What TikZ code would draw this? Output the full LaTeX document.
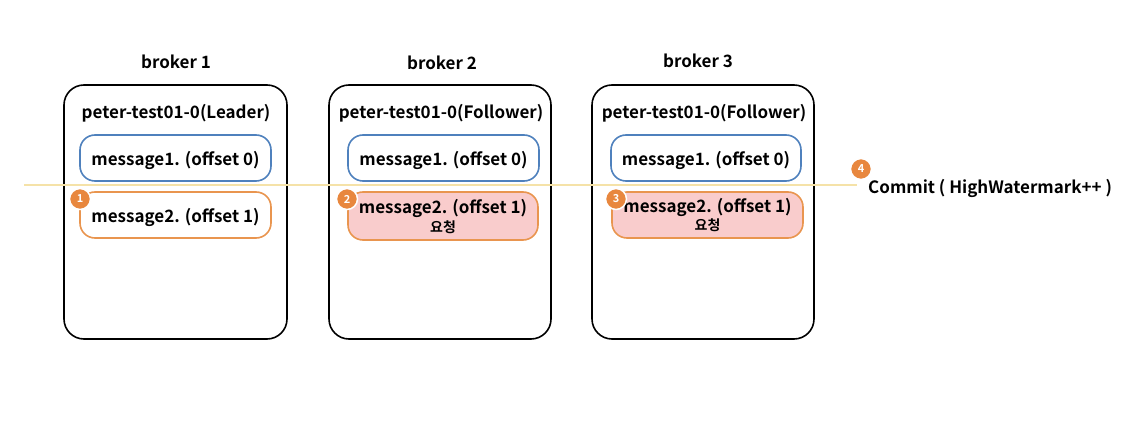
\documentclass[tikz,border=0pt]{standalone}
\usepackage{fontspec}
\setmainfont{Noto Sans CJK KR}[BoldFont={* Bold}]
\definecolor{bluebd}{HTML}{4F81BD}
\definecolor{orangebd}{HTML}{E9954F}
\definecolor{pinkfill}{HTML}{F9CCCC}
\definecolor{badge}{HTML}{E8873E}
\definecolor{hwline}{HTML}{F5E2A8}
\tikzset{
  broker/.style={draw=black, line width=1.6pt, rounded corners=20pt},
  msgone/.style={draw=bluebd, line width=1.6pt, rounded corners=15pt, fill=white},
  msgtwo/.style={draw=orangebd, line width=1.6pt, rounded corners=15pt, fill=white},
  msgpink/.style={draw=orangebd, line width=1.6pt, rounded corners=15pt, fill=pinkfill},
  lbl/.style={font=\fontsize{17}{19}\selectfont\bfseries, inner sep=0pt},
  lblsmall/.style={font=\fontsize{14}{16}\selectfont\bfseries, inner sep=0pt},
  badgec/.style={circle, fill=badge, draw=white, line width=1.5pt, minimum size=21pt, inner sep=0pt, text=white, font=\fontsize{11}{11}\selectfont\bfseries},
}
\begin{document}
\begin{tikzpicture}[x=1pt,y=-1pt]
\useasboundingbox (0,0) rectangle (1145,443);
% broker boxes
\draw[broker] (64,85) rectangle (287,339);
\draw[broker] (329,85) rectangle (551,339);
\draw[broker] (592,85) rectangle (814,339);
\node[lbl] (b1) at (176,62) {broker 1};
\node[lbl] (b2) at (442,63) {broker 2};
\node[lbl] (b3) at (698,61) {broker 3};
\node[lbl] (t1) at (176,113) {peter-test01-0(Leader)};
\node[lbl] (t2) at (441,113) {peter-test01-0(Follower)};
\node[lbl] (t3) at (704,113) {peter-test01-0(Follower)};
% message1
\draw[msgone] (80,135) rectangle (271,181);
\draw[msgone] (348,135) rectangle (539,181);
\draw[msgone] (611,135) rectangle (801,181);
\node[lbl] (m11) at (175.5,160) {message1. (offset 0)};
\node[lbl] (m12) at (443.5,160) {message1. (offset 0)};
\node[lbl] (m13) at (706,160) {message1. (offset 0)};
% high watermark line
\coordinate (ls) at (24,185);
\coordinate (le) at (857,185);
\draw[hwline, line width=1.4pt] (ls) -- (le);
% message2
\draw[msgtwo] (80,192) rectangle (271,238);
\draw[msgpink] (348,192) rectangle (538,240);
\draw[msgpink] (612,192) rectangle (803,238);
\node[lbl] (m21) at (175.5,217) {message2. (offset 1)};
\node[lbl] (m22) at (443,208) {message2. (offset 1)};
\node[lblsmall] (r2) at (443,227) {요청};
\node[lbl] (m23) at (707.5,207) {message2. (offset 1)};
\node[lblsmall] (r3) at (707.5,225) {요청};
% badges
\node[badgec] (n1) at (80,199) {1};
\node[badgec] (n2) at (347,199) {2};
\node[badgec] (n3) at (616,199) {3};
\node[badgec] (n4) at (861,169) {4};
\node[lbl, anchor=west] (commit) at (868,188) {Commit ( HighWatermark++ )};
\end{tikzpicture}
\end{document}
